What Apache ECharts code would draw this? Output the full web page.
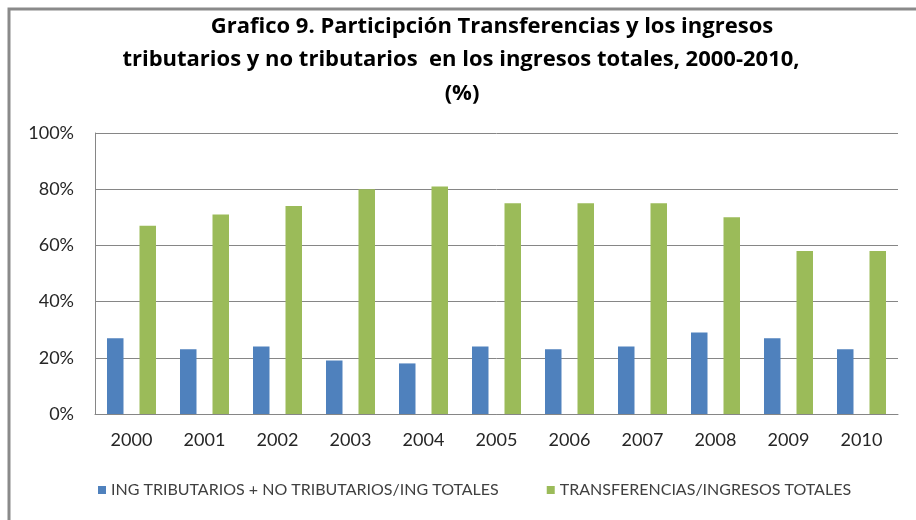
<!DOCTYPE html>
<html><head><meta charset="utf-8">
<script src="https://cdn.jsdelivr.net/npm/echarts@6/dist/echarts.min.js"></script>
<style>html,body{margin:0;padding:0;background:#fff}#c{width:916px;height:520px}</style>
</head><body><div id="c"></div>
<script>
const categories = ['2000','2001','2002','2003','2004','2005','2006','2007','2008','2009','2010'];
const seriesNames = ['ING TRIBUTARIOS + NO TRIBUTARIOS/ING TOTALES','TRANSFERENCIAS/INGRESOS TOTALES'];
const tributarios = [27, 23, 24, 19, 18, 24, 23, 24, 29, 27, 23];
const transferencias = [67, 71, 74, 80, 81, 75, 75, 75, 70, 58, 58];
const titleLines = [
  'Grafico 9. Participción Transferencias y los ingresos',
  'tributarios y no tributarios  en los ingresos totales, 2000-2010,',
  '(%)'
];

const FONT = 'Lato';
const TFONT = 'Open Sans';
const chart = echarts.init(document.getElementById('c'), null, {renderer:'canvas'});
chart.setOption({
  animation: false,
  backgroundColor: '#fff',
  textStyle: {fontFamily: FONT},
  title: [
    {text: titleLines[0], left: 487, top: 11, textAlign: 'center', textStyle:{fontFamily:TFONT, fontWeight:'bold', fontSize:22, color:'#000'}},
    {text: titleLines[1], left: 456, top: 44, textAlign: 'center', textStyle:{fontFamily:TFONT, fontWeight:'bold', fontSize:22, color:'#000'}},
    {text: titleLines[2], left: 457, top: 78, textAlign: 'center', textStyle:{fontFamily:TFONT, fontWeight:'bold', fontSize:22, color:'#000'}}
  ],
  graphic: [{
    type: 'rect', shape: {x: 9, y: 9, width: 1000, height: 1000},
    style: {fill: 'none', stroke: '#8a8a8a', lineWidth: 3}, silent: true
  }],
  legend: {
    bottom: 17, left: 93, itemWidth: 8, itemHeight: 8, itemGap: 48,
    icon: 'rect',
    textStyle: {fontFamily: FONT, fontSize: 16, color: '#404040'},
    data: seriesNames
  },
  grid: {left: 95, right: 18, top: 133, bottom: 106, containLabel: false},
  xAxis: {
    type: 'category', data: categories,
    axisLine: {lineStyle: {color: '#868686', width: 1}},
    axisTick: {show: false},
    axisLabel: {fontFamily: FONT, fontSize: 18, color: '#262626', margin: 17}
  },
  yAxis: {
    type: 'value', min: 0, max: 100, interval: 20,
    axisLine: {show: true, lineStyle: {color: '#868686'}},
    axisTick: {show: false},
    splitLine: {lineStyle: {color: '#868686', width: 1}},
    axisLabel: {formatter: '{value}%', fontFamily: FONT, fontSize: 18, color: '#262626', margin: 21}
  },
  series: [
    {name: seriesNames[0], type: 'bar', data: tributarios, barWidth: 16.5, barGap: '97%',
     itemStyle: {color: '#4F81BD'}},
    {name: seriesNames[1], type: 'bar', data: transferencias, barWidth: 16.5, barGap: '97%',
     itemStyle: {color: '#9BBB59'}}
  ]
});
</script></body></html>
